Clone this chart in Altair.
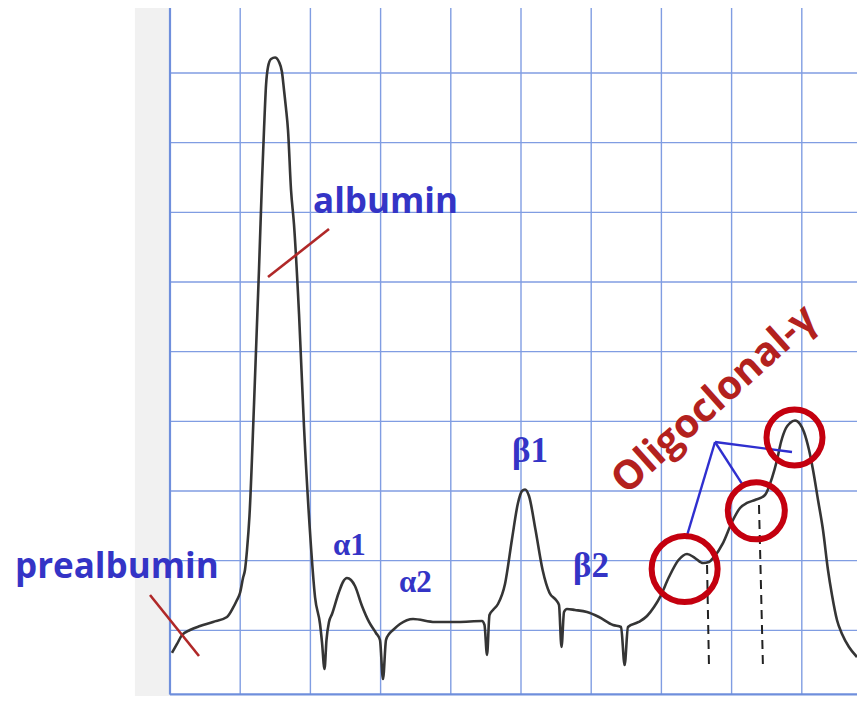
import altair as alt
import pandas as pd

# ---------------- data (grid units: one grid cell = 1) ----------------
trace_x = [0.028, 0.100, 0.171, 0.285, 0.427, 0.613, 0.812, 0.897, 0.954, 0.997,
           1.040, 1.068, 1.097, 1.132, 1.197, 1.268, 1.311, 1.339, 1.368, 1.396,
           1.439, 1.496, 1.553, 1.595, 1.624, 1.652, 1.681, 1.724, 1.766, 1.838,
           1.909, 2.001, 2.066, 2.137, 2.165, 2.201, 2.229, 2.265, 2.308, 2.402,
           2.464, 2.521, 2.578, 2.635, 2.735, 2.835, 2.934, 2.991, 3.034, 3.077,
           3.120, 3.177, 3.276, 3.462, 3.775, 4.103, 4.444, 4.480, 4.516, 4.551,
           4.601, 4.672, 4.772, 4.872, 4.957, 5.014, 5.057, 5.114, 5.207, 5.308,
           5.407, 5.499, 5.541, 5.577, 5.613, 5.655, 5.769, 5.940, 6.111, 6.311,
           6.425, 6.476, 6.524, 6.677, 6.795, 6.895, 6.980, 7.108, 7.244, 7.365,
           7.479, 7.593, 7.678, 7.749, 7.877, 8.006, 8.120, 8.219, 8.333, 8.476,
           8.575, 8.647, 8.704, 8.775, 8.832, 8.903, 8.974, 9.031, 9.103, 9.160,
           9.231, 9.302, 9.373, 9.430, 9.501, 9.573, 9.672, 9.786]
trace_y = [0.675, 0.804, 0.933, 1.005, 1.062, 1.120, 1.191, 1.321, 1.435, 1.536,
           1.751, 1.866, 2.153, 2.641, 4.249, 6.187, 7.464, 8.181, 8.827, 9.086,
           9.201, 9.222, 9.158, 9.014, 8.756, 8.497, 8.181, 7.320, 6.832, 5.540,
           3.918, 2.311, 1.478, 1.091, 0.832, 0.445, 0.861, 1.120, 1.234, 1.536,
           1.694, 1.751, 1.722, 1.636, 1.349, 1.120, 0.962, 0.861, 0.301, 0.861,
           0.947, 1.005, 1.091, 1.163, 1.120, 1.120, 1.134, 1.077, 0.646, 1.220,
           1.292, 1.378, 1.665, 2.311, 2.828, 3.000, 3.021, 2.928, 2.440, 1.866,
           1.536, 1.435, 1.364, 0.761, 1.263, 1.306, 1.292, 1.263, 1.191, 1.077,
           1.048, 0.502, 1.048, 1.120, 1.206, 1.335, 1.478, 1.765, 2.009, 2.096,
           2.038, 1.966, 1.981, 2.053, 2.253, 2.555, 2.756, 2.828, 2.871, 2.942,
           3.186, 3.445, 3.703, 3.904, 3.976, 4.012, 3.962, 3.847, 3.588, 3.301,
           2.871, 2.440, 1.866, 1.507, 1.148, 0.947, 0.761, 0.617]

grid_cols = [0, 1, 2, 3, 4, 5, 6, 7, 8, 9]
grid_rows = [1, 2, 3, 4, 5, 6, 7, 8, 9]
grid_bottom = 0.08
grid_top = 9.933
grid_right = 9.7863
strip = [-0.5, 0.0]

circle_x = [7.331, 8.352, 8.896]
circle_y = [1.880, 2.715, 3.768]

apex = [7.764, 3.703]
branch_x = [7.350, 8.177, 8.860]
branch_y = [2.311, 3.059, 3.560]

dash_x1 = [7.650, 8.390]
dash_y1 = [1.938, 2.799]
dash_x2 = [7.678, 8.447]
dash_y2 = [0.474, 0.459]

pointer_x1 = [1.396, -0.285]
pointer_y1 = [6.071, 1.507]
pointer_x2 = [2.265, 0.413]
pointer_y2 = [6.760, 0.632]

labels_sans = ["albumin", "prealbumin"]
labels_sans_x = [2.037, -2.208]
labels_sans_y = [6.990, 1.751]

labels_alpha = ["α1", "α2"]
labels_alpha_x = [2.322, 3.262]
labels_alpha_y = [2.081, 1.550]

labels_beta = ["β1", "β2"]
labels_beta_x = [4.872, 5.741]
labels_beta_y = [3.416, 1.765]

oligo_label = ["Oligoclonal-γ"]
oligo_x = [6.500]
oligo_y = [2.935]

X_DOMAIN = [-2.3077, 9.7863]
Y_DOMAIN = [0.0574, 9.933]

# ---------------- styles ----------------
GRID = "#809de2"
BLUE_TXT = "#3434c6"
BLUE_LINE = "#2f2fcf"
RED_TXT = "#b3211e"
RED_RING = "#c4000f"
RED_PTR = "#b02828"
circle_sizes = [4356, 3249, 3136]

xs = alt.Scale(domain=X_DOMAIN, nice=False, zero=False)
ys = alt.Scale(domain=Y_DOMAIN, nice=False, zero=False)


def X(f="x"):
    return alt.X(f"{f}:Q", scale=xs, axis=None)


def Y(f="y"):
    return alt.Y(f"{f}:Q", scale=ys, axis=None)


layers = []

# paper-edge shadow strip
strip_df = pd.DataFrame({"x": [strip[0]], "x2": [strip[1]],
                         "y": [Y_DOMAIN[0]], "y2": [Y_DOMAIN[1]]})
layers.append(alt.Chart(strip_df).mark_rect(color="#f1f1f1").encode(
    x=X(), x2="x2:Q", y=Y(), y2="y2:Q"))

# grid
vdf = pd.DataFrame({"x": grid_cols, "y": [grid_bottom] * len(grid_cols),
                    "y2": [grid_top] * len(grid_cols)})
layers.append(alt.Chart(vdf).mark_rule(color=GRID, strokeWidth=1.4).encode(
    x=X(), y=Y(), y2="y2:Q"))
hdf = pd.DataFrame({"y": grid_rows, "x": [0] * len(grid_rows),
                    "x2": [grid_right] * len(grid_rows)})
layers.append(alt.Chart(hdf).mark_rule(color=GRID, strokeWidth=1.4).encode(
    y=Y(), x=X(), x2="x2:Q"))
# borders (left / bottom) slightly heavier
bdf = pd.DataFrame({"x": [0, 0], "x2": [0, grid_right],
                    "y": [grid_bottom, grid_bottom], "y2": [grid_top, grid_bottom]})
layers.append(alt.Chart(bdf).mark_rule(color="#6f8fdc", strokeWidth=2.2).encode(
    x=X(), x2="x2:Q", y=Y(), y2="y2:Q"))

# trace
tdf = pd.DataFrame({"x": trace_x, "y": trace_y, "i": list(range(len(trace_x)))})
layers.append(alt.Chart(tdf).mark_line(color="#353535", strokeWidth=2.6,
                                        interpolate="monotone").encode(
    x=X(), y=Y(), order="i:Q"))

# dashed drop lines
ddf = pd.DataFrame({"x": dash_x1, "y": dash_y1, "x2": dash_x2, "y2": dash_y2})
layers.append(alt.Chart(ddf).mark_rule(color="#222222", strokeWidth=2,
                                        strokeDash=[9, 6]).encode(
    x=X(), y=Y(), x2="x2:Q", y2="y2:Q"))

# blue annotation branches
bl = pd.DataFrame({"x": [apex[0]] * 3, "y": [apex[1]] * 3,
                   "x2": branch_x, "y2": branch_y})
layers.append(alt.Chart(bl).mark_rule(color=BLUE_LINE, strokeWidth=2.4).encode(
    x=X(), y=Y(), x2="x2:Q", y2="y2:Q"))

# red pointers
pdf = pd.DataFrame({"x": pointer_x1, "y": pointer_y1,
                    "x2": pointer_x2, "y2": pointer_y2})
layers.append(alt.Chart(pdf).mark_rule(color=RED_PTR, strokeWidth=2.6).encode(
    x=X(), y=Y(), x2="x2:Q", y2="y2:Q"))

# red rings
for cx, cy, sz in zip(circle_x, circle_y, circle_sizes):
    cdf = pd.DataFrame({"x": [cx], "y": [cy]})
    layers.append(alt.Chart(cdf).mark_point(shape="circle", filled=False,
                                             size=sz, strokeWidth=6,
                                             color=RED_RING, opacity=1).encode(
        x=X(), y=Y()))

# labels
sdf = pd.DataFrame({"t": labels_sans, "x": labels_sans_x, "y": labels_sans_y})
layers.append(alt.Chart(sdf).mark_text(font="Open Sans", fontWeight="bold",
                                        fontSize=35, color=BLUE_TXT,
                                        align="left", baseline="alphabetic").encode(
    x=X(), y=Y(), text="t:N"))

adf = pd.DataFrame({"t": labels_alpha, "x": labels_alpha_x, "y": labels_alpha_y})
layers.append(alt.Chart(adf).mark_text(font="Liberation Serif", fontWeight="bold",
                                        fontSize=31, color=BLUE_TXT,
                                        align="left", baseline="alphabetic").encode(
    x=X(), y=Y(), text="t:N"))

bdf2 = pd.DataFrame({"t": labels_beta, "x": labels_beta_x, "y": labels_beta_y})
layers.append(alt.Chart(bdf2).mark_text(font="Liberation Serif", fontWeight="bold",
                                         fontSize=35, color=BLUE_TXT,
                                         align="left", baseline="alphabetic").encode(
    x=X(), y=Y(), text="t:N"))

odf = pd.DataFrame({"t": oligo_label, "x": oligo_x, "y": oligo_y})
layers.append(alt.Chart(odf).mark_text(font="Open Sans", fontWeight="bold",
                                        fontSize=40, color=RED_TXT, angle=318,
                                        align="left", baseline="alphabetic").encode(
    x=X(), y=Y(), text="t:N"))

chart = alt.layer(*layers).properties(
    width=849, height=688,
    autosize=alt.AutoSizeParams(type="none"),
    padding={"left": 0, "right": 0, "top": 0, "bottom": 0},
    background="white",
).configure_view(strokeWidth=0)

chart.save("out.html", embed_options={"renderer": "svg", "actions": False})
